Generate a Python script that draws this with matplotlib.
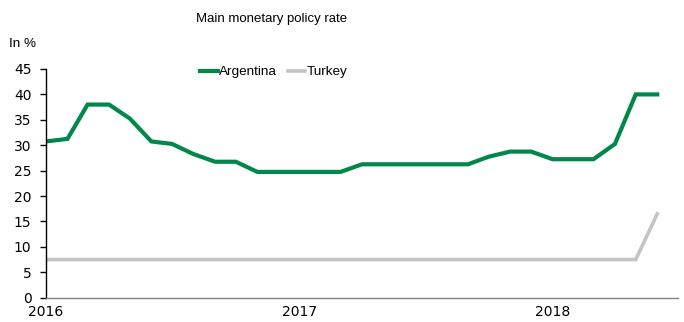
import numpy as np
import pandas as pd
import matplotlib
matplotlib.use("Agg")
import matplotlib.pyplot as plt

narrow = ['Liberation Sans Narrow', 'Liberation Sans', 'DejaVu Sans']
plt.rcParams['font.family'] = ['DejaVu Sans']

# Monthly policy rates, Jan 2016 - Jun 2018
months = pd.date_range("2016-01-01", "2018-06-01", freq="MS")
argentina = [30.75, 31.25, 38.0, 38.0, 35.25, 30.75, 30.25, 28.25, 26.75, 26.75,
             24.75, 24.75, 24.75, 24.75, 24.75, 26.25, 26.25, 26.25, 26.25, 26.25,
             26.25, 27.75, 28.75, 28.75, 27.25, 27.25, 27.25, 30.25, 40.0, 40.0]
turkey = [7.5] * 29 + [16.5]
year_ticks = ["2016", "2017", "2018"]

green = "#00884A"
grey = "#C4C4C4"

fig = plt.figure(figsize=(6.84, 3.22), dpi=100)
ax = fig.add_axes([46 / 684, 1 - 297.7 / 322, 632 / 684, (297.7 - 69) / 322])

ax.plot(months, argentina, color=green, lw=3.0, label="Argentina", solid_joinstyle="miter")
ax.plot(months, turkey, color=grey, lw=2.6, label="Turkey", solid_joinstyle="miter")

ax.set_ylim(0, 45)
ax.set_yticks(np.arange(0, 46, 5))
ax.set_xlim(pd.Timestamp("2016-01-01"), pd.Timestamp("2018-07-01"))
ax.set_xticks([pd.Timestamp(y + "-01-01") for y in year_ticks])
ax.set_xticklabels(year_ticks)

for s in ("top", "right"):
    ax.spines[s].set_visible(False)
ax.spines["left"].set_color("black")
ax.spines["left"].set_linewidth(1.0)
ax.spines["bottom"].set_color("#808080")
ax.spines["bottom"].set_linewidth(1.0)

ax.tick_params(axis="y", length=4.5, width=1.0, pad=6, labelsize=10, colors="black")
ax.tick_params(axis="x", length=0, pad=5, labelsize=10)

leg = ax.legend(loc="center", bbox_to_anchor=((274 - 46) / 632, 1 - 3 / 228.7), ncol=2,
                frameon=False, prop={'family': narrow, 'size': 9.7},
                handlelength=1.3, handletextpad=0.1, columnspacing=0.8, borderaxespad=0)

fig.text(272 / 684, 1 - 19 / 322, "Main monetary policy rate", ha="center", va="center",
         fontsize=9.5, family=narrow)
fig.text(9 / 684, 1 - 44 / 322, "In %", ha="left", va="center", fontsize=9.7, family=narrow)

fig.savefig("out.png", dpi=100)
